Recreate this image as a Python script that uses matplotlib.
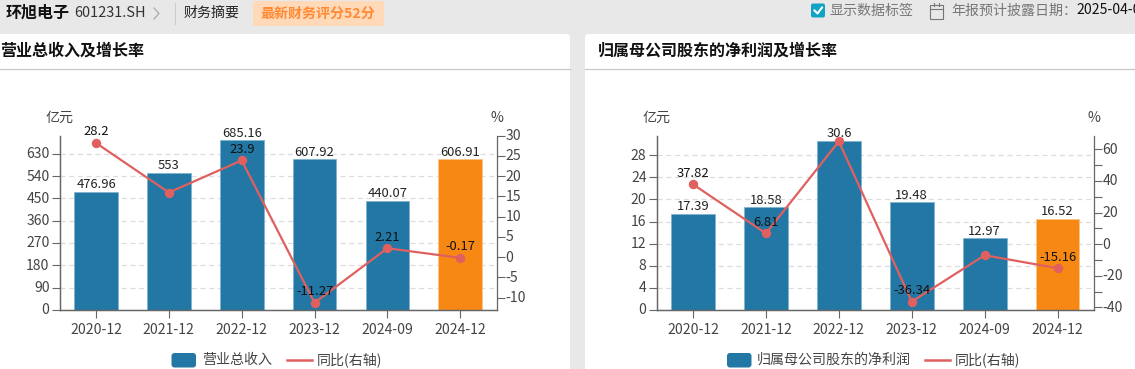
import matplotlib
matplotlib.use("Agg")
import matplotlib.pyplot as plt
from matplotlib.patches import Rectangle, FancyBboxPatch
from matplotlib.transforms import ScaledTranslation

plt.rcParams['font.family'] = ['Noto Sans CJK SC', 'DejaVu Sans']

W, H = 1135, 369
PX = 72 / 100

periods = ['2020-12', '2021-12', '2022-12', '2023-12', '2024-09', '2024-12']
revenue = [476.96, 553, 685.16, 607.92, 440.07, 606.91]
revenue_yoy = [28.2, 15.97, 23.9, -11.27, 2.21, -0.17]
revenue_yoy_labels = ['28.2', '', '23.9', '-11.27', '2.21', '-0.17']
profit = [17.39, 18.58, 30.6, 19.48, 12.97, 16.52]
profit_yoy = [37.82, 6.81, 65.0, -36.34, -7.0, -15.16]
profit_yoy_labels = ['37.82', '6.81', '', '-36.34', '', '-15.16']
revenue_labels = ['476.96', '553', '685.16', '607.92', '440.07', '606.91']
profit_labels = ['17.39', '18.58', '30.6', '19.48', '12.97', '16.52']
rev_ticks = [0, 90, 180, 270, 360, 450, 540, 630]
rev_yoy_ticks = [-10, -5, 0, 5, 10, 15, 20, 25, 30]
prof_ticks = [0, 4, 8, 12, 16, 20, 24, 28]
prof_yoy_ticks = [-40, -30, -20, -10, 0, 10, 20, 30, 40, 50, 60]
prof_yoy_ticklabels = ['-40', '', '-20', '', '0', '', '20', '', '40', '', '60']

BLUE, ORANGE, RED = '#2277a4', '#f78814', '#e06060'
AXC, TXT = '#666666', '#444444'

fig = plt.figure(figsize=(W / 100, H / 100), dpi=100, facecolor='#e8e8e8')

# page furniture, in pixel coordinates
bg = fig.add_axes([0, 0, 1, 1], zorder=-1)
bg.set_xlim(0, W); bg.set_ylim(H, 0); bg.axis('off')
bg.add_patch(FancyBboxPatch((-10, 34), 580, 345, boxstyle='round,pad=0,rounding_size=4', fc='white', ec='none'))
bg.add_patch(FancyBboxPatch((585, 34), 560, 345, boxstyle='round,pad=0,rounding_size=4', fc='white', ec='none'))
bg.plot([0, 570], [69.2, 69.2], color='#c8c8c8', lw=0.9)
bg.plot([585, W], [69.2, 69.2], color='#c8c8c8', lw=0.9)

def t(x, y, s, size, color='#222222', weight='normal', ha='left'):
    bg.text(x, y, s, fontsize=size * PX, color=color, fontweight=weight, ha=ha, va='center', clip_on=True)

t(6, 13, '环旭电子', 16, '#111111', 'bold')
t(74, 13, '601231.SH', 14.5, '#333333')
bg.plot([154, 159, 154], [8, 13.5, 19], color='#aaaaaa', lw=0.9)
bg.plot([174.5, 174.5], [3, 24], color='#cccccc', lw=0.8)
t(184, 13, '财务摘要', 14, '#222222')
bg.add_patch(Rectangle((253, 1), 131, 25, fc='#ffd9b8', ec='none'))
t(260, 13.5, '最新财务评分52分', 14, '#ff8a33', 'bold')
bg.add_patch(FancyBboxPatch((811, 3.5), 14, 14, boxstyle='round,pad=0,rounding_size=2', fc='#0fa4c4', ec='none'))
bg.plot([814.5, 817.5, 822], [10.5, 13.5, 7.5], color='white', lw=1.5)
t(829, 10.5, '显示数据标签', 14, '#777777')
bg.add_patch(Rectangle((929.5, 5), 13.5, 13.5, fc='none', ec='#777777', lw=0.8))
bg.plot([929.5, 943], [9, 9], color='#777777', lw=0.8)
bg.plot([933.5, 933.5], [3, 6], color='#777777', lw=0.8)
bg.plot([939, 939], [3, 6], color='#777777', lw=0.8)
t(951, 10.5, '年报预计披露日期：', 14, '#777777')
t(1076.5, 10.5, '2025-04-0', 14, '#111111')
t(0, 51, '营业总收入及增长率', 16, '#111111', 'bold')
t(598, 51, '归属母公司股东的净利润及增长率', 16, '#111111', 'bold')


def panel(x0, x1, bars, bar_labels, line, line_labels, ymax, lticks, rlim, rticks, rticklabels):
    top, bottom = 135.7, 309.8
    ax = fig.add_axes([x0 / W, 1 - bottom / H, (x1 - x0) / W, (bottom - top) / H])
    ax.patch.set_alpha(0)
    xs = list(range(len(periods)))
    colors = [BLUE] * 5 + [ORANGE]
    edges = ['#7fb3cf'] * 5 + ['#fbc58a']
    ax.bar(xs, bars, width=0.6, color=colors, edgecolor=edges, linewidth=0.6, zorder=2)
    for x, v, s in zip(xs, bars, bar_labels):
        ax.annotate(s, (x, v), xytext=(0, 7 * PX), textcoords='offset points', ha='center', va='center',
                    fontsize=13 * PX, color='#222222', zorder=3)
    ax.set_xlim(-0.5, 5.5); ax.set_ylim(0, ymax)
    ax.set_xticks(xs, periods)
    ax.set_yticks(lticks)
    ax.grid(axis='y', color='#dddddd', ls=(0, (4, 3)), lw=0.9, zorder=0)
    ax.tick_params(axis='x', length=8 * PX, width=0.8, color=AXC, labelcolor=TXT, labelsize=14 * PX, pad=4)
    ax.tick_params(axis='y', length=8 * PX, width=0.8, color=AXC, labelcolor=TXT, labelsize=14 * PX, pad=1.5)
    ax2 = ax.twinx()
    ax2.patch.set_alpha(0)
    ax2.plot(xs, line, color=RED, lw=1.6, marker='o', ms=6.8, mew=0, zorder=4, clip_on=False)
    for x, v, s in zip(xs, line, line_labels):
        if s:
            ax2.annotate(s, (x, v), xytext=(0, 11 * PX), textcoords='offset points', ha='center', va='center',
                         fontsize=13 * PX, color='#111111', zorder=5)
    ax2.set_ylim(*rlim)
    ax2.set_yticks(rticks, rticklabels)
    ax2.tick_params(axis='y', length=8 * PX, width=0.8, color=AXC, labelcolor=TXT, labelsize=14 * PX, pad=0.5)
    lift = ScaledTranslation(0, 1 * PX / 72, fig.dpi_scale_trans)
    for lab in ax.get_yticklabels() + ax2.get_yticklabels():
        lab.set_transform(lab.get_transform() + lift)
    for a in (ax, ax2):
        a.spines['top'].set_visible(False)
        for sp in ('left', 'right', 'bottom'):
            a.spines[sp].set_color(AXC); a.spines[sp].set_linewidth(0.9)
    ax.spines['right'].set_visible(False)
    t(x0, 118, '亿元', 14, TXT, ha='center')
    t(x1, 118, '%', 14, TXT, ha='center')


def legend(px, tx, name, lx0):
    bg.add_patch(FancyBboxPatch((px, 353), 24.5, 14.5, boxstyle='round,pad=0,rounding_size=3', fc=BLUE, ec='none'))
    t(tx, 360, name, 14, TXT)
    bg.plot([lx0, lx0 + 25], [360, 360], color=RED, lw=1.8)
    t(lx0 + 30, 360, '同比(右轴)', 14, TXT)


panel(59.6, 496.6, revenue, revenue_labels, revenue_yoy, revenue_yoy_labels, 703, rev_ticks,
      (-13, 30), rev_yoy_ticks, [str(v) for v in rev_yoy_ticks])
panel(656.6, 1094, profit, profit_labels, profit_yoy, profit_yoy_labels, 31.55, prof_ticks,
      (-41.5, 68.6), prof_yoy_ticks, prof_yoy_ticklabels)
legend(171.5, 202, '营业总收入', 286.5)
legend(727, 757, '归属母公司股东的净利润', 925)

fig.savefig('out.png', dpi=100, facecolor=fig.get_facecolor())
